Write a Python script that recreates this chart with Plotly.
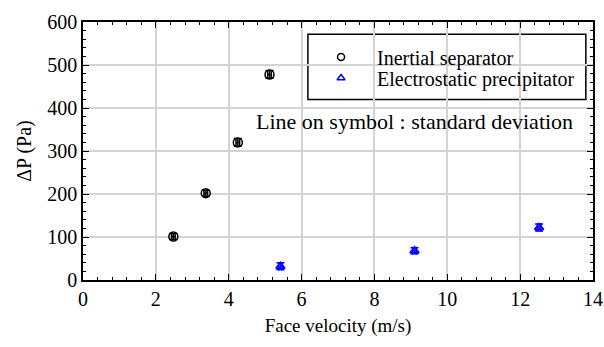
import plotly.graph_objects as go

# Data
is_velocity = [2.48, 3.37, 4.25, 5.12]
is_dp = [101, 202, 320, 478]
is_dp_err = [7, 7, 9, 9]
is_v_err = [0.05, 0.05, 0.05, 0.05]

esp_velocity = [5.42, 9.10, 12.52]
esp_dp = [32, 68, 122]
esp_dp_err = [8, 7, 8]
esp_v_err = [0.05, 0.05, 0.05]

series_names = ["Inertial separator", "Electrostatic precipitator"]
series_colors = ["black", "blue"]
series_symbols = ["circle-open", "triangle-up-open"]
series_sizes = [9, 8]

FONT = "Liberation Serif"

fig = go.Figure()
for name, xs, ys, ye, xe, col, sym, sz in [
    (series_names[0], is_velocity, is_dp, is_dp_err, is_v_err, series_colors[0], series_symbols[0], series_sizes[0]),
    (series_names[1], esp_velocity, esp_dp, esp_dp_err, esp_v_err, series_colors[1], series_symbols[1], series_sizes[1]),
]:
    fig.add_trace(go.Scatter(
        x=xs, y=ys, mode="markers", name=name, showlegend=False,
        marker=dict(symbol=sym, size=sz, color=col, line=dict(width=1.5)),
        error_y=dict(type="data", array=ye, color=col, thickness=1.5, width=4),
        error_x=dict(type="data", array=xe, color=col, thickness=1.5, width=4),
    ))

# Custom legend (box, symbols on an overlay unit axis, text as annotations)
leg_x0, leg_x1, leg_y0, leg_y1 = 0.441, 0.986, 0.70, 0.953
sym_x, txt_x = 0.506, 0.572
sym_row_y = [0.864, 0.783]
txt_row_y = [0.859, 0.778]
fig.add_shape(type="rect", xref="paper", yref="paper",
              x0=leg_x0, x1=leg_x1, y0=leg_y0, y1=leg_y1,
              line=dict(color="black", width=1.5), fillcolor="white", layer="between")
for i in range(2):
    fig.add_trace(go.Scatter(
        x=[sym_x], y=[sym_row_y[i]], xaxis="x2", yaxis="y2", mode="markers",
        showlegend=False, hoverinfo="skip",
        marker=dict(symbol=series_symbols[i], size=7, color=series_colors[i], line=dict(width=1.5)),
    ))
    fig.add_annotation(x=txt_x, y=txt_row_y[i], xref="paper", yref="paper",
                       xanchor="left", yanchor="middle", showarrow=False,
                       text=series_names[i], font=dict(family=FONT, size=20, color="black"))

axis_common = dict(
    showline=True, linecolor="black", linewidth=1.5, mirror="ticks",
    ticks="inside", ticklen=6, tickcolor="black", tickwidth=1,
    showgrid=True, gridcolor="#d3d3d3", gridwidth=1.5, zeroline=False,
    tickfont=dict(family=FONT, size=20, color="black"),
    automargin=False,
)

fig.update_layout(
    xaxis=dict(
        range=[0, 14], dtick=2, **axis_common,
        minor=dict(dtick=0.4, ticks="inside", ticklen=3, tickcolor="black", showgrid=False),
        title=dict(text="Face velocity (m/s)", font=dict(family=FONT, size=19, color="black"), standoff=10),
    ),
    yaxis=dict(
        range=[0, 600], dtick=100, **axis_common,
        minor=dict(dtick=20, ticks="inside", ticklen=3, tickcolor="black", showgrid=False),
        title=dict(text="ΔP (Pa)", font=dict(family=FONT, size=20, color="black"), standoff=10),
    ),
    xaxis2=dict(range=[0, 1], overlaying="x", visible=False, fixedrange=True),
    yaxis2=dict(range=[0, 1], overlaying="y", visible=False, fixedrange=True),
)

fig.add_annotation(
    x=0.965, y=0.615, xref="paper", yref="paper", xanchor="right", yanchor="middle",
    text="Line on symbol : standard deviation", showarrow=False,
    font=dict(family=FONT, size=22, color="black"),
)

fig.update_layout(
    width=604, height=347,
    margin=dict(l=83, r=11, t=22, b=67),
    paper_bgcolor="white", plot_bgcolor="white",
    font=dict(family=FONT, color="black"),
    showlegend=False,
)

fig.write_html("out.html")
